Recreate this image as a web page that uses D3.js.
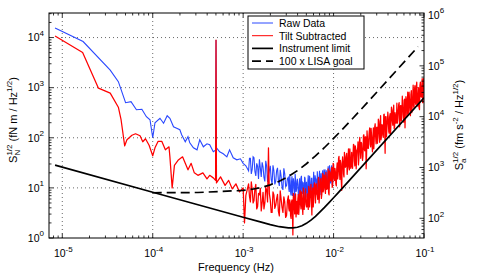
<!DOCTYPE html>
<html>
<head>
<meta charset="utf-8">
<script src="https://cdn.jsdelivr.net/npm/d3@7"></script>
<style>
  body { margin: 0; background: #fff; }
  svg { display: block; font-family: "Liberation Sans", Arial, Helvetica, sans-serif; }
</style>
</head>
<body>
<div id="chart"></div>
<script>
// ---- data (log10 frequency in Hz, log10 of S_N^1/2 in fN m / Hz^1/2) ----

// averaged low-frequency part, [log f, log S]
const rawLow = [
  [-5.08,4.19],[-4.77,3.92],[-4.47,3.35],[-4.38,3.12],[-4.30,2.70],[-4.24,2.72],
  [-4.18,2.56],[-4.12,2.57],[-4.07,2.42],[-4.03,2.36],[-4.00,2.00],[-3.975,2.30],
  [-3.92,2.39],[-3.88,2.29],[-3.84,2.44],[-3.81,2.39],[-3.77,2.22],[-3.735,2.19],
  [-3.70,2.16],[-3.68,2.06],[-3.64,1.92],[-3.61,2.02],[-3.59,1.90],[-3.55,1.80],
  [-3.51,1.76],[-3.48,1.96],[-3.44,1.82],[-3.40,1.88],[-3.37,1.86],[-3.33,1.72],
  [-3.305,1.75],[-3.30,3.95],[-3.295,1.80],[-3.26,1.72],[-3.22,1.68],[-3.18,1.62],
  [-3.15,1.76],[-3.11,1.60],[-3.07,1.56],[-3.03,1.58],[-3.00,1.49],[-2.97,1.44]
];
const tiltLow = [
  [-5.08,4.03],[-4.775,3.70],[-4.60,2.99],[-4.47,2.89],[-4.38,2.61],[-4.35,2.36],
  [-4.31,1.84],[-4.285,1.96],[-4.23,2.05],[-4.19,2.08],[-4.14,2.04],[-4.11,1.92],
  [-4.08,1.98],[-4.04,1.85],[-4.00,1.64],[-3.975,1.80],[-3.94,1.93],[-3.90,1.93],
  [-3.86,1.76],[-3.82,1.82],[-3.81,1.62],[-3.785,1.00],[-3.76,1.45],[-3.72,1.55],
  [-3.67,1.62],[-3.61,1.36],[-3.575,1.49],[-3.54,1.30],[-3.50,1.25],[-3.445,1.30],
  [-3.40,1.18],[-3.37,1.25],[-3.33,1.20],[-3.305,1.15],[-3.30,3.95],[-3.295,1.10],
  [-3.25,1.22],[-3.20,1.05],[-3.16,1.15],[-3.12,0.98],[-3.08,1.08],[-3.04,0.92],
  [-3.00,1.00],[-2.985,0.30],[-2.97,0.85]
];

// dense spectrum part: frequency grids (log f)
const gridA = [-2.94,-2.92,-2.90,-2.88,-2.86,-2.84,-2.82,-2.80,-2.78,-2.76,-2.74,
  -2.72,-2.70,-2.68,-2.66,-2.64,-2.62,-2.60,-2.58,-2.56,-2.54,-2.52];
const gridA2 = [-2.93,-2.91,-2.89,-2.87,-2.85,-2.83,-2.81,-2.79,-2.77,-2.75,-2.73,
  -2.71,-2.69,-2.67,-2.65,-2.63,-2.61,-2.59,-2.57,-2.55,-2.53,-2.51];
const gridB = [
  -2.50,-2.49,-2.48,-2.47,-2.46,-2.45,-2.44,-2.43,-2.42,-2.41,
  -2.40,-2.39,-2.38,-2.37,-2.36,-2.35,-2.34,-2.33,-2.32,-2.31,
  -2.30,-2.29,-2.28,-2.27,-2.26,-2.25,-2.24,-2.23,-2.22,-2.21,
  -2.20,-2.19,-2.18,-2.17,-2.16,-2.15,-2.14,-2.13,-2.12,-2.11,
  -2.10,-2.09,-2.08,-2.07,-2.06,-2.05,-2.04,-2.03,-2.02,-2.01,
  -2.00,-1.99,-1.98,-1.97,-1.96,-1.95,-1.94,-1.93,-1.92,-1.91,
  -1.90,-1.89,-1.88,-1.87,-1.86,-1.85,-1.84,-1.83,-1.82,-1.81,
  -1.80,-1.79,-1.78,-1.77,-1.76,-1.75,-1.74,-1.73,-1.72,-1.71,
  -1.70,-1.69,-1.68,-1.67,-1.66,-1.65,-1.64,-1.63,-1.62,-1.61,
  -1.60,-1.59,-1.58,-1.57,-1.56,-1.55,-1.54,-1.53,-1.52,-1.51,
  -1.50,-1.49,-1.48,-1.47,-1.46,-1.45,-1.44,-1.43,-1.42,-1.41,
  -1.40,-1.39,-1.38,-1.37,-1.36,-1.35,-1.34,-1.33,-1.32,-1.31,
  -1.30,-1.29,-1.28,-1.27,-1.26,-1.25,-1.24,-1.23,-1.22,-1.21,
  -1.20,-1.19,-1.18,-1.17,-1.16,-1.15,-1.14,-1.13,-1.12,-1.11,
  -1.10,-1.09,-1.08,-1.07,-1.06,-1.05,-1.04,-1.03,-1.02,-1.01,
  -1.00
];
const gridB2 = [
  -2.495,-2.485,-2.475,-2.465,-2.455,-2.445,-2.435,-2.425,-2.415,-2.405,
  -2.395,-2.385,-2.375,-2.365,-2.355,-2.345,-2.335,-2.325,-2.315,-2.305,
  -2.295,-2.285,-2.275,-2.265,-2.255,-2.245,-2.235,-2.225,-2.215,-2.205,
  -2.195,-2.185,-2.175,-2.165,-2.155,-2.145,-2.135,-2.125,-2.115,-2.105,
  -2.095,-2.085,-2.075,-2.065,-2.055,-2.045,-2.035,-2.025,-2.015,-2.005,
  -1.995,-1.985,-1.975,-1.965,-1.955,-1.945,-1.935,-1.925,-1.915,-1.905,
  -1.895,-1.885,-1.875,-1.865,-1.855,-1.845,-1.835,-1.825,-1.815,-1.805,
  -1.795,-1.785,-1.775,-1.765,-1.755,-1.745,-1.735,-1.725,-1.715,-1.705,
  -1.695,-1.685,-1.675,-1.665,-1.655,-1.645,-1.635,-1.625,-1.615,-1.605,
  -1.595,-1.585,-1.575,-1.565,-1.555,-1.545,-1.535,-1.525,-1.515,-1.505,
  -1.495,-1.485,-1.475,-1.465,-1.455,-1.445,-1.435,-1.425,-1.415,-1.405,
  -1.395,-1.385,-1.375,-1.365,-1.355,-1.345,-1.335,-1.325,-1.315,-1.305,
  -1.295,-1.285,-1.275,-1.265,-1.255,-1.245,-1.235,-1.225,-1.215,-1.205,
  -1.195,-1.185,-1.175,-1.165,-1.155,-1.145,-1.135,-1.125,-1.115,-1.105,
  -1.095,-1.085,-1.075,-1.065,-1.055,-1.045,-1.035,-1.025,-1.015,-1.005
];

// raw data on the dense grids (up to -2.00, hidden under tilt-subtracted above that)
const rawA = [1.34,1.59,1.37,1.60,1.24,1.43,1.57,1.22,1.42,1.13,1.43,1.26,1.44,1.08,
  1.34,1.13,1.40,1.04,1.23,0.96,1.28,1.04];
const rawA2 = [1.59,1.28,1.62,1.33,1.49,1.18,1.40,1.51,1.21,1.54,1.12,1.35,1.17,1.45,
  1.07,1.34,1.14,1.36,1.02,1.39,1.03,1.19];
const rawB = [
  1.21,0.92,1.12,0.85,1.23,0.96,1.12,0.79,1.15,0.96,
  1.18,0.86,1.06,0.79,1.21,0.91,1.11,0.82,1.22,0.88,
  1.12,0.80,1.25,0.93,1.12,0.80,1.19,0.91,1.32,0.88,
  1.19,0.92,1.33,0.98,1.21,0.86,1.29,1.04,1.35,0.96,
  1.33,1.00,1.34,1.07,1.43,1.02,1.34,1.15,1.45,1.10,
  1.38
];
const rawB2 = [
  0.98,1.27,0.91,1.12,0.84,1.19,1.01,1.28,0.92,1.13,
  1.07,0.83,1.19,0.92,1.24,0.88,1.10,0.77,1.19,0.99,
  0.83,1.11,0.94,1.24,0.89,1.19,0.82,1.10,0.95,1.25,
  1.18,0.89,1.14,0.95,1.34,1.07,0.92,1.29,1.04,1.37,
  1.04,1.35,0.99,1.28,1.16,1.45,1.09,1.40,1.06,1.39
];

// tilt subtracted on the dense grids
const tiltA = [1.08,0.72,0.97,0.75,1.07,0.63,0.86,0.54,0.91,0.70,0.96,1.80,0.76,0.51,
  0.86,0.65,0.87,0.44,0.77,0.51,0.72,0.45];
const tiltA2 = [0.83,1.12,0.70,0.98,0.58,0.89,0.99,0.70,0.58,1.01,0.72,0.88,0.51,0.92,
  0.59,0.78,0.53,0.94,0.61,0.82,0.41,0.75];
const tiltB = [
  0.84,0.54,0.69,0.39,0.76,0.06,0.80,0.48,0.88,0.61,
  0.48,0.87,0.62,0.95,0.58,0.76,0.47,0.90,0.71,0.98,
  0.62,0.88,0.57,0.99,0.80,1.07,0.46,1.00,0.77,1.10,
  0.70,1.08,0.85,1.17,0.70,1.06,1.19,0.87,1.29,0.98,
  1.23,0.89,1.19,0.98,1.38,0.86,1.30,1.14,1.41,1.05,
  1.47,1.15,1.32,1.04,1.50,1.26,1.63,1.17,1.49,0.95,
  1.62,1.28,1.71,1.41,1.63,1.27,1.60,1.42,1.78,1.39,
  1.71,1.39,1.87,1.54,1.84,1.38,1.76,1.92,1.59,2.01,
  1.59,1.89,1.55,2.04,1.76,2.02,1.38,2.14,1.79,2.01,
  2.20,1.82,2.04,1.72,2.20,1.98,2.28,1.88,2.21,2.01,
  2.33,1.91,2.44,2.06,2.25,2.01,2.47,1.69,2.42,2.19,
  2.51,2.13,2.42,2.08,2.61,2.33,2.54,2.18,2.50,2.29,
  2.69,2.37,2.66,2.22,2.64,2.34,2.83,2.51,2.75,2.20,
  2.82,2.42,2.91,2.53,2.77,2.44,2.94,2.63,3.05,2.59,
  3.04,2.66,3.11,2.63,3.00,2.56,3.11,2.81,3.18,2.70,
  3.13
];
const tiltB2 = [
  0.59,0.76,0.44,0.72,0.50,0.89,0.63,0.84,0.42,0.73,
  0.78,0.47,0.86,0.67,0.92,0.61,1.00,0.57,0.78,0.67,
  0.62,0.85,1.03,0.62,0.96,0.77,0.90,0.62,1.07,0.91,
  1.06,0.88,0.77,1.21,0.88,1.16,0.79,1.11,0.92,1.26,
  0.99,1.31,0.97,1.14,0.90,1.34,1.14,1.32,1.01,1.49,
  1.20,1.39,1.08,1.38,1.18,1.59,1.33,1.55,1.15,1.46,
  1.52,1.22,1.61,1.43,1.69,1.39,1.78,1.36,1.58,1.47,
  1.43,1.67,1.85,1.44,1.78,1.60,1.74,1.46,1.91,1.75,
  1.91,1.73,1.63,2.06,1.74,2.02,1.66,1.98,1.79,2.13,
  1.87,2.19,1.85,2.02,1.78,2.22,2.02,2.20,1.89,2.37,
  2.08,2.27,1.96,2.26,2.05,2.46,2.21,2.42,2.02,2.33,
  2.39,2.09,2.48,2.30,2.55,2.25,2.65,2.22,2.44,2.33,
  2.29,2.53,2.70,2.30,2.64,2.46,2.59,2.31,2.77,2.60,
  2.76,2.58,2.47,2.91,2.59,2.86,2.50,2.81,2.63,2.97,
  2.70,3.02,2.67,2.85,2.60,3.04,2.83,3.01,2.70,3.18
];

// instrument limit and 100 x LISA goal (log f, S in fN m / Hz^1/2)
const limitF = [-5.08,-4.0,-3.5,-3.0,-2.8,-2.7,-2.6,-2.5,-2.45,-2.4,-2.35,-2.3,-2.25,-2.2,-2.1,-2.05,-2.0,-1.95,-1.9,-1.0];
const limitV = [28.4,8.2,4.61,2.59,2.07,1.85,1.68,1.59,1.59,1.64,1.76,1.96,2.27,2.71,4.08,5.08,6.35,7.97,10.0,630];
const lisaF = [-4.0,-3.5,-3.0,-2.9,-2.8,-2.7,-2.6,-2.5,-2.4,-2.3,-2.2,-2.1,-2.0,-1.9,-1.8,-1.7,-1.5,-1.065];
const lisaV = [8.0,8.09,8.89,9.41,10.2,11.5,13.6,16.9,22.1,30.3,43.4,64.0,96.9,149,231,362,897,6600];

const legendItems = ["Raw Data", "Tilt Subtracted", "Instrument limit", "100 x LISA goal"];

// ---- layout ----
const W = 478, H = 275;
const L = 49, R = 424, T = 13, B = 238;

const svg = d3.select('#chart').append('svg')
  .attr('width', W).attr('height', H);

const x = d3.scaleLog().domain([Math.pow(10, -5.147), 0.1]).range([L, R]);
const yL = d3.scaleLog().domain([1, Math.pow(10, 4.49)]).range([B, T]);
const yR = d3.scaleLog().domain([Math.pow(10, 1.612), Math.pow(10, 6.04)]).range([B, T]);

const isMajor = t => Math.abs(Math.log10(t) - Math.round(Math.log10(t))) < 1e-6;

svg.append('defs').append('clipPath').attr('id', 'plotclip')
  .append('rect').attr('x', L).attr('y', T).attr('width', R - L).attr('height', B - T);

// grid
const grid = svg.append('g').attr('stroke', '#444').attr('stroke-width', 0.8)
  .attr('stroke-dasharray', '1,3');
x.ticks().filter(isMajor).filter(t => x(t) > L + 1 && x(t) < R - 1).forEach(t => {
  grid.append('line').attr('x1', x(t)).attr('x2', x(t)).attr('y1', T).attr('y2', B);
});
yL.ticks().filter(isMajor).filter(t => yL(t) < B - 1 && yL(t) > T + 1).forEach(t => {
  grid.append('line').attr('x1', L).attr('x2', R).attr('y1', yL(t)).attr('y2', yL(t));
});

// lines
const plot = svg.append('g').attr('clip-path', 'url(#plotclip)');
const line = d3.line().x(d => x(Math.pow(10, d[0]))).y(d => yL(Math.pow(10, d[1])));
const lineV = d3.line().x(d => x(Math.pow(10, d[0]))).y(d => yL(d[1]));
const byF = (a, b) => a[0] - b[0];

const rawSeries = rawLow.concat(d3.sort([].concat(
  d3.zip(gridA, rawA), d3.zip(gridA2, rawA2),
  d3.zip(gridB.slice(0, rawB.length), rawB), d3.zip(gridB2.slice(0, rawB2.length), rawB2)), byF));
const tiltSeries = tiltLow.concat(d3.sort([].concat(
  d3.zip(gridA, tiltA), d3.zip(gridA2, tiltA2),
  d3.zip(gridB, tiltB), d3.zip(gridB2, tiltB2)), byF));

plot.append('path').datum(rawSeries).attr('d', line)
  .attr('fill', 'none').attr('stroke', '#2a48ff').attr('stroke-width', 1.1);
plot.append('path').datum(tiltSeries).attr('d', line)
  .attr('fill', 'none').attr('stroke', '#ff0000').attr('stroke-width', 1.25)
  .attr('stroke-linejoin', 'round');
plot.append('path').datum(d3.zip(limitF, limitV)).attr('d', lineV)
  .attr('fill', 'none').attr('stroke', '#000').attr('stroke-width', 1.7);
plot.append('path').datum(d3.zip(lisaF, lisaV)).attr('d', lineV)
  .attr('fill', 'none').attr('stroke', '#000').attr('stroke-width', 1.7)
  .attr('stroke-dasharray', '9,5');

// frame
svg.append('rect').attr('x', L).attr('y', T).attr('width', R - L).attr('height', B - T)
  .attr('fill', 'none').attr('stroke', '#000').attr('stroke-width', 1);

// ticks
const ticks = svg.append('g').attr('stroke', '#000').attr('stroke-width', 0.8);
x.ticks().forEach(t => {
  const len = isMajor(t) ? 4.5 : 2.5;
  ticks.append('line').attr('x1', x(t)).attr('x2', x(t)).attr('y1', B).attr('y2', B - len);
  ticks.append('line').attr('x1', x(t)).attr('x2', x(t)).attr('y1', T).attr('y2', T + len);
});
yL.ticks().forEach(t => {
  const len = isMajor(t) ? 4.5 : 2.5;
  ticks.append('line').attr('x1', L).attr('x2', L + len).attr('y1', yL(t)).attr('y2', yL(t));
});
yR.ticks().forEach(t => {
  const len = isMajor(t) ? 4.5 : 2.5;
  ticks.append('line').attr('x1', R).attr('x2', R - len).attr('y1', yR(t)).attr('y2', yR(t));
});

// tick labels with superscript exponents
function powLabel(sel, t) {
  const e = Math.round(Math.log10(t));
  sel.append('tspan').text('10');
  sel.append('tspan').attr('dy', -5.5).attr('font-size', 8).text(e < 0 ? '-' + (-e) : e);
}
const labels = svg.append('g').attr('font-size', 10.5).attr('fill', '#000');
x.ticks().filter(isMajor).forEach(t => {
  labels.append('text').attr('x', x(t) + 1).attr('y', 257).attr('text-anchor', 'middle')
    .call(powLabel, t);
});
yL.ticks().filter(isMajor).forEach(t => {
  labels.append('text').attr('x', 44).attr('y', yL(t) + 3.8).attr('text-anchor', 'end')
    .call(powLabel, t);
});
yR.ticks().filter(isMajor).forEach(t => {
  labels.append('text').attr('x', 428).attr('y', yR(t) + 3.8).attr('text-anchor', 'start')
    .call(powLabel, t);
});

// axis titles
function richText(sel, parts) {
  let shift = 0;
  parts.forEach(p => {
    const target = p.sup ? -5 : p.sub ? 3 : 0;
    const ts = sel.append('tspan').text(p.t).attr('dy', target - shift);
    if (p.sup || p.sub) ts.attr('font-size', 8);
    if (p.dx) ts.attr('dx', p.dx);
    shift = target;
  });
}
svg.append('text').attr('x', 236).attr('y', 271).attr('text-anchor', 'middle')
  .attr('font-size', 11).text('Frequency (Hz)');

svg.append('text').attr('transform', 'translate(17,120) rotate(-90)')
  .attr('text-anchor', 'middle').attr('font-size', 11)
  .call(richText, [{t: 'S'}, {t: 'N', sub: 1}, {t: '1/2', sup: 1, dx: -5.8},
    {t: ' (fN m / Hz'}, {t: '1/2', sup: 1}, {t: ')'}]);

svg.append('text').attr('transform', 'translate(463,125) rotate(-90)')
  .attr('text-anchor', 'middle').attr('font-size', 11)
  .call(richText, [{t: 'S'}, {t: 'a', sub: 1}, {t: '1/2', sup: 1, dx: -4.45},
    {t: ' (fm s'}, {t: '-2', sup: 1}, {t: ' / Hz'}, {t: '1/2', sup: 1}, {t: ')'}]);

// legend
const lg = svg.append('g');
lg.append('rect').attr('x', 248).attr('y', 16).attr('width', 116).attr('height', 53)
  .attr('fill', '#fff').attr('stroke', '#000').attr('stroke-width', 1);
const styles = [
  {c: '#2a48ff', w: 1, d: null},
  {c: '#ff0000', w: 1, d: null},
  {c: '#000', w: 1.7, d: null},
  {c: '#000', w: 1.7, d: '9,5'}
];
legendItems.forEach((name, i) => {
  const yy = 23 + i * 12.7;
  lg.append('line').attr('x1', 252).attr('x2', 273).attr('y1', yy).attr('y2', yy)
    .attr('stroke', styles[i].c).attr('stroke-width', styles[i].w)
    .attr('stroke-dasharray', styles[i].d);
  lg.append('text').attr('x', 279).attr('y', yy + 3.8).attr('font-size', 10.5).text(name);
});
</script>
</body>
</html>
